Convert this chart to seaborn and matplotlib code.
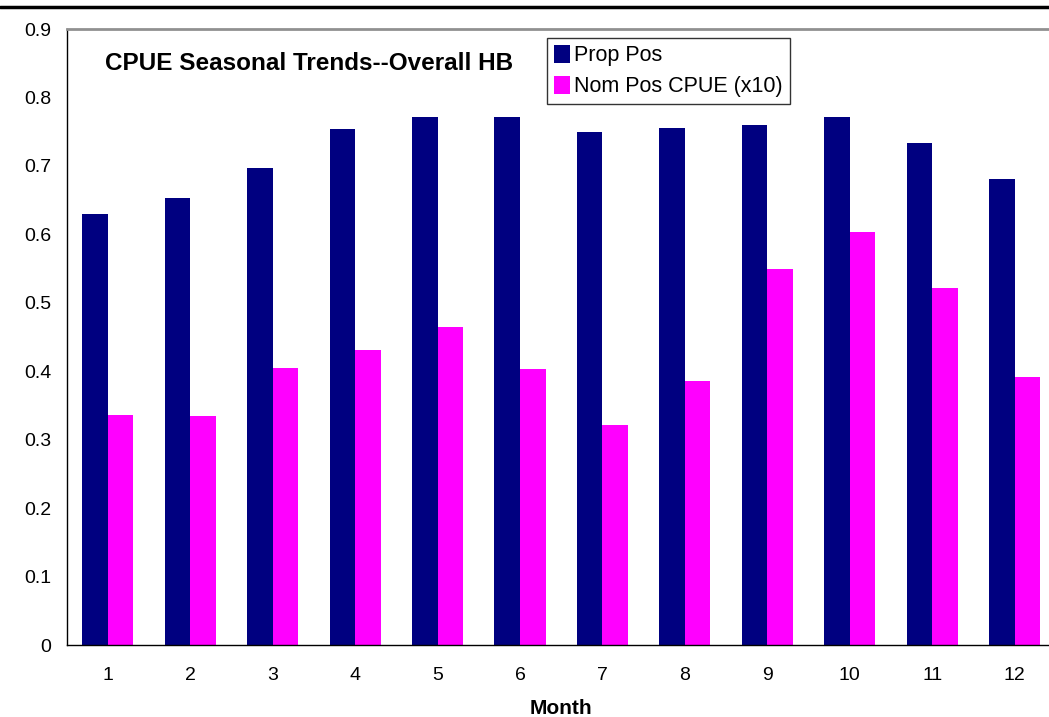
import matplotlib
matplotlib.use("Agg")
import matplotlib.pyplot as plt
from matplotlib.lines import Line2D
from matplotlib.patches import Patch
import numpy as np
import pandas as pd
import seaborn as sns

months = ["1", "2", "3", "4", "5", "6", "7", "8", "9", "10", "11", "12"]
prop_pos = [0.630, 0.653, 0.697, 0.754, 0.771, 0.772, 0.749, 0.756, 0.760, 0.772, 0.733, 0.681]
nom_pos_cpue_x10 = [0.336, 0.334, 0.404, 0.431, 0.464, 0.403, 0.321, 0.385, 0.550, 0.604, 0.521, 0.392]
series_names = ["Prop Pos", "Nom Pos CPUE (x10)"]
y_ticks = [0, 0.1, 0.2, 0.3, 0.4, 0.5, 0.6, 0.7, 0.8, 0.9]

df = pd.DataFrame({
    "Month": months * 2,
    "Value": prop_pos + nom_pos_cpue_x10,
    "Series": [series_names[0]] * len(months) + [series_names[1]] * len(months),
})

sns.set_style("white")
plt.rcParams["font.family"] = ["Liberation Sans", "DejaVu Sans"]
plt.rcParams["text.color"] = "black"
plt.rcParams["axes.labelcolor"] = "black"
plt.rcParams["xtick.color"] = "black"
plt.rcParams["ytick.color"] = "black"

fig = plt.figure(figsize=(10.49, 7.17), dpi=100)
ax = fig.add_axes([66.5 / 1049, 72 / 717, (1056 - 66.5) / 1049, 616 / 717])

palette = {series_names[0]: "#000080", series_names[1]: "#FF00FF"}
sns.barplot(data=df, x="Month", y="Value", hue="Series", order=months,
            hue_order=series_names, palette=palette, width=0.62,
            saturation=1, errorbar=None, ax=ax, legend=False, linewidth=0)

ax.set_xlim(-0.5, len(months) - 0.5)
ax.set_ylim(0, 0.9)
ax.set_yticks(y_ticks)
ax.set_yticklabels(["0"] + [f"{v:.1f}" for v in y_ticks[1:]], fontsize=14)

# category boundary ticks, labels centred under each group
ax.set_xticks(np.arange(-0.5, len(months) + 0.5, 1.0))
ax.set_xticklabels([])
ax.set_xticks(np.arange(len(months)), minor=True)
ax.set_xticklabels(months, minor=True, fontsize=14)
ax.tick_params(axis="x", which="major", direction="out", length=5, width=1, color="black")
ax.tick_params(axis="x", which="minor", length=0, pad=16)
ax.tick_params(axis="y", direction="out", length=6, width=1, color="black", pad=5)

ax.set_xlabel("Month", fontsize=15, fontweight="bold", labelpad=11)
ax.set_ylabel("")

for side in ["left", "bottom"]:
    ax.spines[side].set_color("black")
    ax.spines[side].set_linewidth(1)
ax.spines["top"].set_color("#909090")
ax.spines["top"].set_linewidth(2)
ax.spines["right"].set_visible(False)
ax.grid(False)

ax.text(0.039, 0.944, "CPUE Seasonal Trends--Overall HB", transform=ax.transAxes,
        fontsize=17.5, fontweight="bold", ha="left", va="center")

handles = [Patch(facecolor=palette[s], edgecolor="none") for s in series_names]
leg = ax.legend(handles, series_names, loc="upper left",
                bbox_to_anchor=((547 - 66.5) / (1056 - 66.5), (645 - 38) / 616),
                fontsize=15.5, frameon=True, fancybox=False, handlelength=0.75,
                handleheight=0.9, handletextpad=0.2, borderpad=0.32,
                labelspacing=0.45, borderaxespad=0)
leg.get_frame().set_edgecolor("black")
leg.get_frame().set_linewidth(1)

# document rule across the top
fig.add_artist(Line2D([0, 1], [1 - 7 / 717, 1 - 7 / 717], color="black", linewidth=2.5,
                      transform=fig.transFigure))

fig.savefig("out.png", dpi=100)
